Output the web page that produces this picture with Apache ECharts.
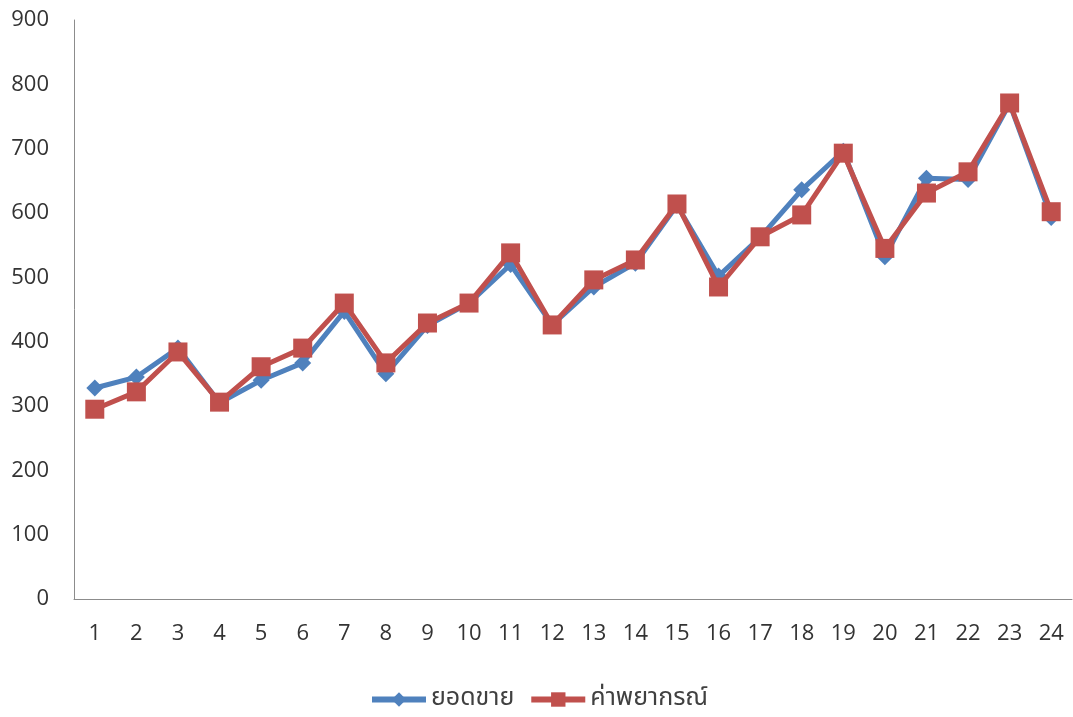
<!DOCTYPE html>
<html>
<head>
<meta charset="utf-8">
<script src="https://cdn.jsdelivr.net/npm/echarts@6/dist/echarts.min.js"></script>
<style>
  html, body { margin: 0; padding: 0; background: #ffffff; }
  #chart { width: 1073px; height: 717px; }
</style>
</head>
<body>
<div id="chart"></div>
<script>
// Periods 1..24
const periods = ['1','2','3','4','5','6','7','8','9','10','11','12','13','14','15','16','17','18','19','20','21','22','23','24'];

// Actual sales (ยอดขาย)
const sales = [328, 345, 390, 305, 340, 367, 447, 350, 425, 460, 520, 426, 485, 522, 612, 502, 562, 636, 696, 532, 654, 652, 770, 593];

// Forecast values (ค่าพยากรณ์)
const forecast = [295, 322, 384, 306, 361, 390, 460, 367, 429, 460, 538, 426, 496, 527, 614, 485, 563, 597, 693, 545, 631, 664, 771, 602];

const yTicks = { min: 0, max: 900, interval: 100 };

const labelFont = '"Open Sans", "Liberation Sans", sans-serif';
const thaiFont = '"Noto Sans Thai", "Noto Sans", "DejaVu Sans", sans-serif';

const chart = echarts.init(document.getElementById('chart'));
chart.setOption({
  backgroundColor: '#ffffff',
  animation: false,
  grid: { left: 74, right: 1, top: 20, bottom: 118, containLabel: false },
  legend: {
    bottom: 0,
    left: 364,
    itemWidth: 54,
    itemHeight: 18,
    itemGap: 14,
    textStyle: { fontFamily: thaiFont, fontSize: 25, color: '#404040' },
    data: [
      { name: 'ยอดขาย', lineStyle: { width: 6, color: '#4F81BD' } },
      { name: 'ค่าพยากรณ์', lineStyle: { width: 6, color: '#C0504D' } }
    ]
  },
  xAxis: {
    type: 'category',
    data: periods,
    boundaryGap: true,
    axisLine: { lineStyle: { color: '#8c8c8c', width: 1 } },
    axisTick: { show: false },
    axisLabel: { fontFamily: labelFont, fontSize: 22, color: '#333333', margin: 24 },
    splitLine: { show: false }
  },
  yAxis: {
    type: 'value',
    min: yTicks.min,
    max: yTicks.max,
    interval: yTicks.interval,
    axisLine: { show: true, lineStyle: { color: '#8c8c8c', width: 1 } },
    axisTick: { show: false },
    axisLabel: { fontFamily: labelFont, fontSize: 22, color: '#333333', margin: 25 },
    splitLine: { show: false }
  },
  series: [
    {
      name: 'ยอดขาย',
      type: 'line',
      data: sales,
      symbol: 'diamond',
      symbolSize: 17,
      lineStyle: { color: '#4F81BD', width: 5 },
      itemStyle: { color: '#4F81BD' },
      z: 2
    },
    {
      name: 'ค่าพยากรณ์',
      type: 'line',
      data: forecast,
      symbol: 'rect',
      symbolSize: 19,
      lineStyle: { color: '#C0504D', width: 5 },
      itemStyle: { color: '#C0504D' },
      z: 3
    }
  ]
});
</script>
</body>
</html>
